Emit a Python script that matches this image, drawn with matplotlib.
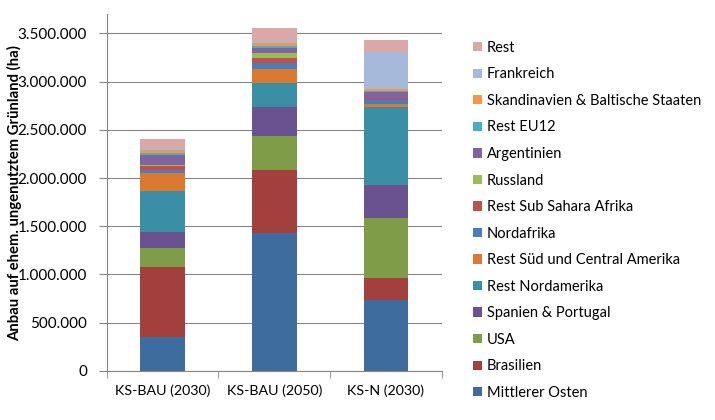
import matplotlib
matplotlib.use("Agg")
import matplotlib.pyplot as plt
import numpy as np
from matplotlib.ticker import FuncFormatter

categories = ["KS-BAU (2030)", "KS-BAU (2050)", "KS-N (2030)"]
series_names = ["Mittlerer Osten", "Brasilien", "USA", "Spanien & Portugal",
                "Rest Nordamerika", "Rest Süd und Central Amerika", "Nordafrika",
                "Rest Sub Sahara Afrika", "Russland", "Argentinien", "Rest EU12",
                "Skandinavien & Baltische Staaten", "Frankreich", "Rest"]
mittlerer_osten = [356000, 1426000, 737000]
brasilien = [724000, 661000, 226000]
usa = [197000, 353000, 619000]
spanien_portugal = [166000, 291000, 342000]
rest_nordamerika = [423000, 257000, 810000]
rest_sued_central = [187000, 138000, 36000]
nordafrika = [27000, 69000, 40000]
rest_ssa = [41000, 52000, 5000]
russland = [11000, 52000, 4000]
argentinien = [104000, 45000, 75000]
rest_eu12 = [25000, 24000, 5000]
skandinavien = [34000, 35000, 19000]
frankreich = [18000, 17000, 392000]
rest = [96000, 131000, 117000]

values = [mittlerer_osten, brasilien, usa, spanien_portugal, rest_nordamerika,
          rest_sued_central, nordafrika, rest_ssa, russland, argentinien,
          rest_eu12, skandinavien, frankreich, rest]
colors = ["#3F6C9F", "#A3403D", "#7F9C48", "#6A5190", "#3A8EA6", "#DA7A30",
          "#4A7EBB", "#C0504D", "#9BBB59", "#8064A2", "#4BACC6", "#F79646",
          "#A7B9DA", "#DAA8A7"]

plt.rcParams['font.family'] = ['Lato', 'DejaVu Sans']
fig = plt.figure(figsize=(7.15, 4.2), dpi=100)
ax = fig.add_axes([0.149, 0.1167, 0.469, 0.85])

x = np.arange(len(categories))
bottom = np.zeros(len(categories))
handles = []
for name, vals, c in zip(series_names, values, colors):
    h = ax.bar(x, vals, 0.4, bottom=bottom, color=c, label=name, linewidth=0)
    handles.append(h)
    bottom += np.array(vals)

ax.set_xlim(-0.5, 2.5)
ax.set_ylim(0, 3700000)
ax.set_yticks(np.arange(0, 3500001, 500000))
ax.yaxis.set_major_formatter(FuncFormatter(lambda v, p: "0" if v == 0 else f"{int(v):,}".replace(",", ".")))
ax.set_xticks(x)
ax.set_xticklabels(categories)
ax.set_xticks([-0.5, 0.5, 1.5, 2.5], minor=True)
ax.tick_params(axis='x', which='major', length=0, pad=10, labelsize=10.3)
ax.tick_params(axis='x', which='minor', length=5, color="#868686")
ax.tick_params(axis='y', length=6, color="#868686", labelsize=11, pad=8)
ax.grid(axis='y', color="#868686", linewidth=0.8)
ax.set_axisbelow(True)
for s in ["top", "right"]:
    ax.spines[s].set_visible(False)
for s in ["left", "bottom"]:
    ax.spines[s].set_color("#868686")
ax.set_ylabel("Anbau auf ehem. ungenutztem Grünland (ha)", fontweight='bold', fontsize=10.7)
ax.yaxis.set_label_coords(-0.252, 0.497)

leg = fig.legend(handles[::-1], series_names[::-1], loc='upper left',
                 bbox_to_anchor=(0.643, 0.934), frameon=False, fontsize=10.5,
                 handlelength=0.6, handleheight=0.6, handletextpad=0.35,
                 labelspacing=0.86)

fig.savefig("out.png", dpi=100)
